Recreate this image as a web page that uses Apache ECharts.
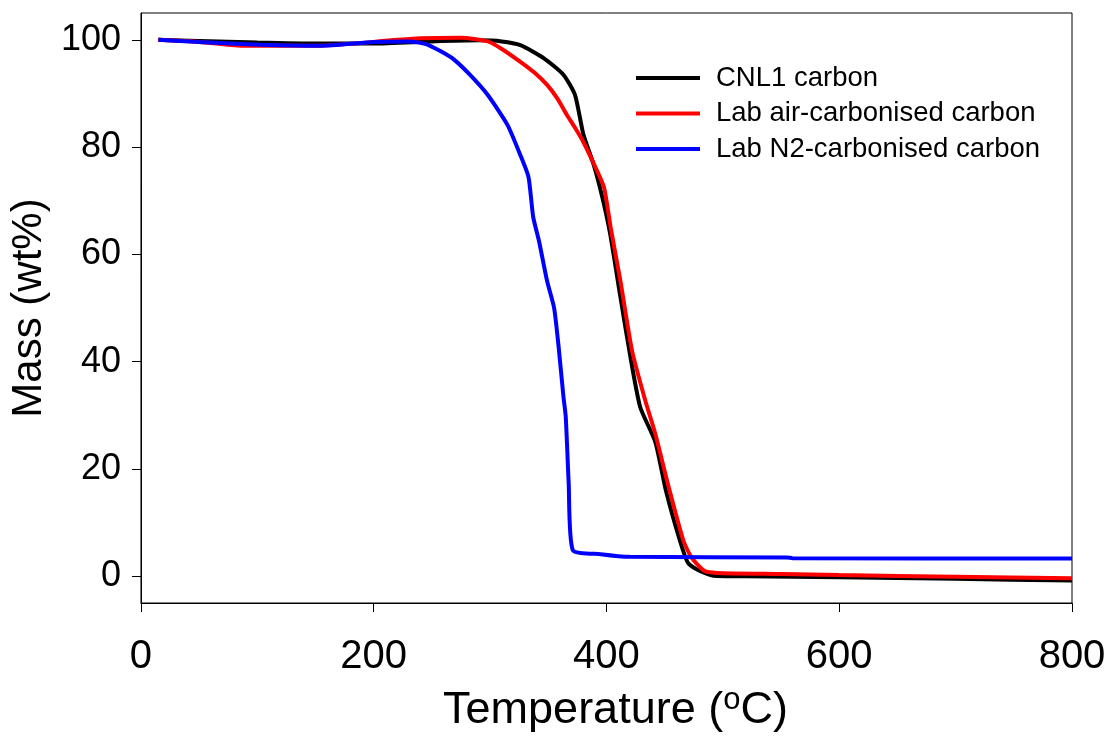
<!DOCTYPE html>
<html>
<head>
<meta charset="utf-8">
<script src="https://cdn.jsdelivr.net/npm/echarts@6/dist/echarts.min.js"></script>
<style>
html,body{margin:0;padding:0;background:#fff;}
#chart{width:1109px;height:738px;}
</style>
</head>
<body>
<div id="chart"></div>
<script>
// Temperature (°C) / Mass (wt%) pairs
const seriesNames = ['CNL1 carbon', 'Lab air-carbonised carbon', 'Lab N2-carbonised carbon'];
const seriesColors = ['#000000', '#ff0000', '#0000ff'];

const cnl1T = [15, 50, 100, 150, 200, 250, 290, 310, 326, 346, 363, 373, 380, 389, 396, 403, 412, 421, 429, 442, 451, 463, 470, 479, 492, 520, 600, 700, 800];
const cnl1M = [100, 99.8, 99.5, 99.3, 99.3, 99.7, 99.9, 99.7, 99.0, 96.6, 93.5, 89.7, 82.5, 76.7, 71.0, 64.0, 52.0, 40.3, 31.5, 25.0, 16.0, 6.7, 2.5, 1.1, 0.1, 0.0, -0.2, -0.5, -0.8];

const airT = [15, 50, 86, 154, 215, 240, 275, 298, 310, 326, 338, 349, 358, 366, 373, 380, 391, 398, 404, 412, 422, 433, 442, 453, 466, 473, 484, 495, 550, 600, 700, 800];
const airM = [100, 99.6, 98.9, 98.9, 99.9, 100.3, 100.4, 99.7, 98.3, 95.9, 93.9, 91.6, 89.0, 86.0, 83.6, 81.0, 76.0, 72.4, 64.5, 55.0, 42.0, 33.0, 26.5, 17.0, 6.7, 3.5, 1.0, 0.6, 0.4, 0.2, -0.1, -0.4];

const n2T = [15, 50, 103, 154, 200, 230, 245, 258, 269, 283, 298, 315, 326, 333, 337, 342, 349, 355, 359, 363, 365, 367.5, 371, 395, 420, 555, 560, 800];
const n2M = [100, 99.6, 99.1, 98.9, 99.6, 99.7, 99.2, 97.8, 96.3, 93.4, 89.7, 84.1, 78.5, 74.4, 67.0, 62.5, 55.0, 50.0, 42.5, 33.5, 29.7, 17.5, 4.9, 4.1, 3.6, 3.5, 3.35, 3.3];

const xTicks = [0, 200, 400, 600, 800];
const yTicks = [0, 20, 40, 60, 80, 100];

const pair = (xs, ys) => xs.map((x, i) => [x, ys[i]]);
const allData = [pair(cnl1T, cnl1M), pair(airT, airM), pair(n2T, n2M)];

const FONT = '"Liberation Sans", Arial, sans-serif';
const chart = echarts.init(document.getElementById('chart'), null, {renderer: 'canvas'});

chart.setOption({
  animation: false,
  backgroundColor: '#ffffff',
  grid: {left: 140, right: 37, top: 13, bottom: 135, show: true, borderColor: '#000', borderWidth: 1, backgroundColor: 'transparent'},
  legend: {
    left: 631, top: 59, orient: 'vertical',
    itemWidth: 64, itemHeight: 4, itemGap: 7.5,
    icon: 'rect',
    data: seriesNames,
    textStyle: {fontFamily: FONT, fontSize: 27.5, color: '#000', padding: [0, 0, 0, 11], lineHeight: 27.5}
  },
  xAxis: {
    type: 'value', min: 0, max: 800, interval: 200,
    name: 'Temperature ({sup|o}C)', nameLocation: 'middle', nameGap: 82,
    nameTextStyle: {fontFamily: FONT, fontSize: 45, color: '#000', padding: [0, 0, 0, 18],
      rich: {sup: {fontFamily: FONT, fontSize: 31, color: '#000', verticalAlign: 'top', padding: [0, 0, 20, 0]}}},
    axisLine: {show: true, onZero: false, lineStyle: {color: '#000', width: 1}},
    axisTick: {show: true, inside: false, length: 9, lineStyle: {color: '#000', width: 1}},
    axisLabel: {fontFamily: FONT, fontSize: 40, color: '#000', margin: 34,
      formatter: v => xTicks.includes(v) ? String(v) : ''},
    splitLine: {show: false}
  },
  yAxis: {
    type: 'value', min: -5, max: 105,
    name: 'Mass (wt%)', nameLocation: 'middle', nameGap: 90,
    nameTextStyle: {fontFamily: FONT, fontSize: 42, color: '#000'},
    axisLine: {show: true, onZero: false, lineStyle: {color: '#000', width: 1}},
    axisTick: {show: true, length: 9, lineStyle: {color: '#000', width: 1},
      customValues: yTicks},
    axisLabel: {fontFamily: FONT, fontSize: 36, color: '#000', margin: 20,
      customValues: yTicks},
    splitLine: {show: false}
  },
  series: allData.map((d, i) => ({
    name: seriesNames[i],
    type: 'line',
    data: d,
    showSymbol: false,
    symbol: 'none',
    smooth: 0.2,
    lineStyle: {color: seriesColors[i], width: 4},
    itemStyle: {color: seriesColors[i]},
    z: 2 + i
  }))
});
</script>
</body>
</html>
